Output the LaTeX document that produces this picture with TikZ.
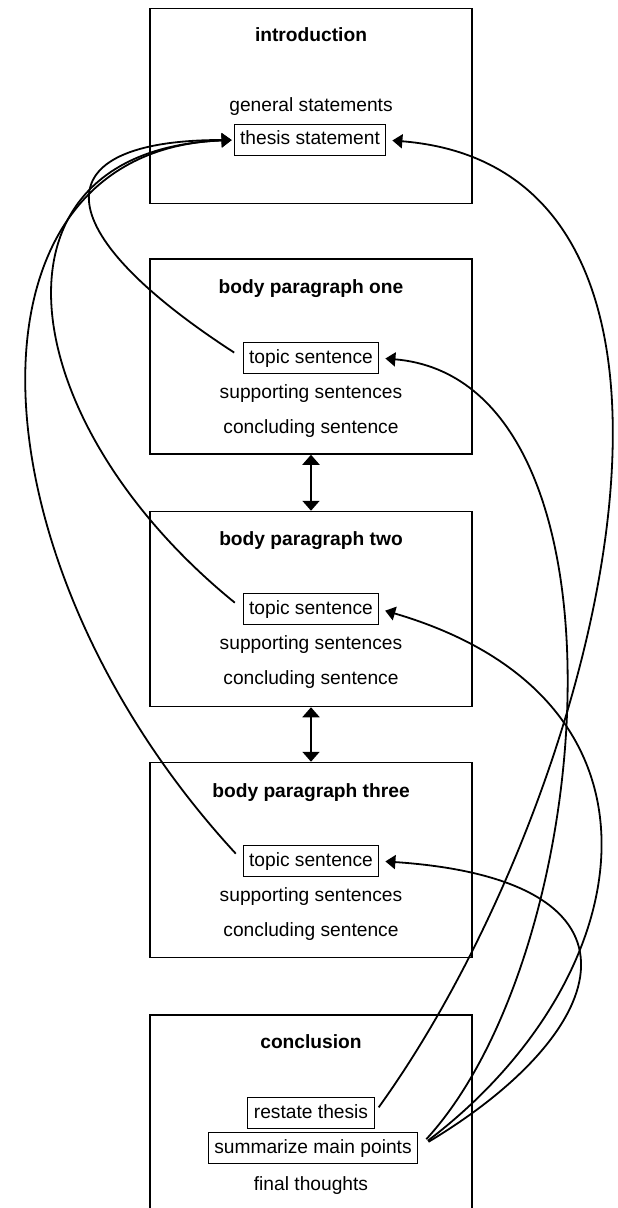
\documentclass[tikz,border=0pt]{standalone}
\usepackage{fontspec}
\setmainfont{Liberation Sans}
\usetikzlibrary{arrows.meta}

\newcommand{\diagfont}{\fontsize{9.6pt}{11pt}\selectfont}

\tikzset{
    partbox/.style={draw, line width=0.75pt, minimum width=161pt, minimum height=97.5pt},
    headtext/.style={font=\diagfont\bfseries},
    keybox/.style={draw, line width=0.5pt, inner xsep=3pt, inner ysep=3.2pt},
    link/.style={->, line width=0.9pt},
    bothways/.style={<->, line width=1pt, >={Triangle[length=5pt,width=8.5pt]}}
}

\begin{document}
\begin{tikzpicture}[x=0.5pt, y=-0.5pt, font=\diagfont,
    >={Triangle[length=5pt,width=7pt]},
    every node/.append style={text height=7pt, text depth=2pt}]
    \useasboundingbox (0,0) rectangle (617,1208);

    % the five parts
    \node[partbox] (intro) at (311, 106) {};
    \node[partbox] (b1) at (311, 356.5) {};
    \node[partbox] (b2) at (311, 609) {};
    \node[partbox] (b3) at (311, 860) {};
    \node[partbox] (concl) at (311, 1112.5) {};

    % introduction
    \node[headtext] (introhead) at (311, 37) {introduction};
    \node (general) at (311, 107) {general statements};
    \node[keybox] (thesis) at (310, 140) {thesis statement};

    % body paragraphs
    \node[headtext] (b1head) at (311, 288) {body paragraph one};
    \node[keybox] (t1) at (311, 358) {topic sentence};
    \node (s1) at (311, 393) {supporting sentences};
    \node (c1) at (311, 428) {concluding sentence};

    \node[headtext] (b2head) at (311, 540) {body paragraph two};
    \node[keybox] (t2) at (311, 609) {topic sentence};
    \node (s2) at (311, 644) {supporting sentences};
    \node (c2) at (311, 679) {concluding sentence};

    \node[headtext] (b3head) at (311, 792) {body paragraph three};
    \node[keybox] (t3) at (311, 861) {topic sentence};
    \node (s3) at (311, 896) {supporting sentences};
    \node (c3) at (311, 931) {concluding sentence};

    % conclusion
    \node[headtext] (conclhead) at (311, 1043) {conclusion};
    \node[keybox] (restate) at (311, 1113) {restate thesis};
    \node[keybox] (summary) at (313, 1148) {summarize main points};
    \node (final) at (311, 1185) {final thoughts};

    % order of the body paragraphs
    \draw[bothways] (b1.south) -- (b2.north);
    \draw[bothways] (b2.south) -- (b3.north);

    % topic sentences back to the thesis
    \draw[link, shorten <=5pt, shorten >=1pt]
        (t1.west) .. controls (45, 230) and (40, 140) .. (thesis.west);
    \draw[link, shorten <=5pt, shorten >=1pt]
        (t2.west) .. controls (10, 420) and (-25, 150) .. (thesis.west);
    \draw[link, shorten <=5pt, shorten >=1pt]
        (t3.west) .. controls (-35, 560) and (-50, 150) .. (thesis.west);

    % conclusion back to the thesis and the topic sentences
    \draw[link, shorten <=3.5pt, shorten >=3pt]
        (restate.east) .. controls (600, 800) and (760, 170) .. (thesis.east);
    \draw[link, shorten <=6pt, shorten >=3pt]
        (summary.east) .. controls (600, 950) and (640, 380) .. (t1.east);
    \draw[link, shorten <=6pt, shorten >=3pt]
        (summary.east) .. controls (640, 980) and (690, 700) .. (t2.east);
    \draw[link, shorten <=6pt, shorten >=3pt]
        (summary.east) .. controls (615, 1030) and (660, 880) .. (t3.east);
\end{tikzpicture}
\end{document}
